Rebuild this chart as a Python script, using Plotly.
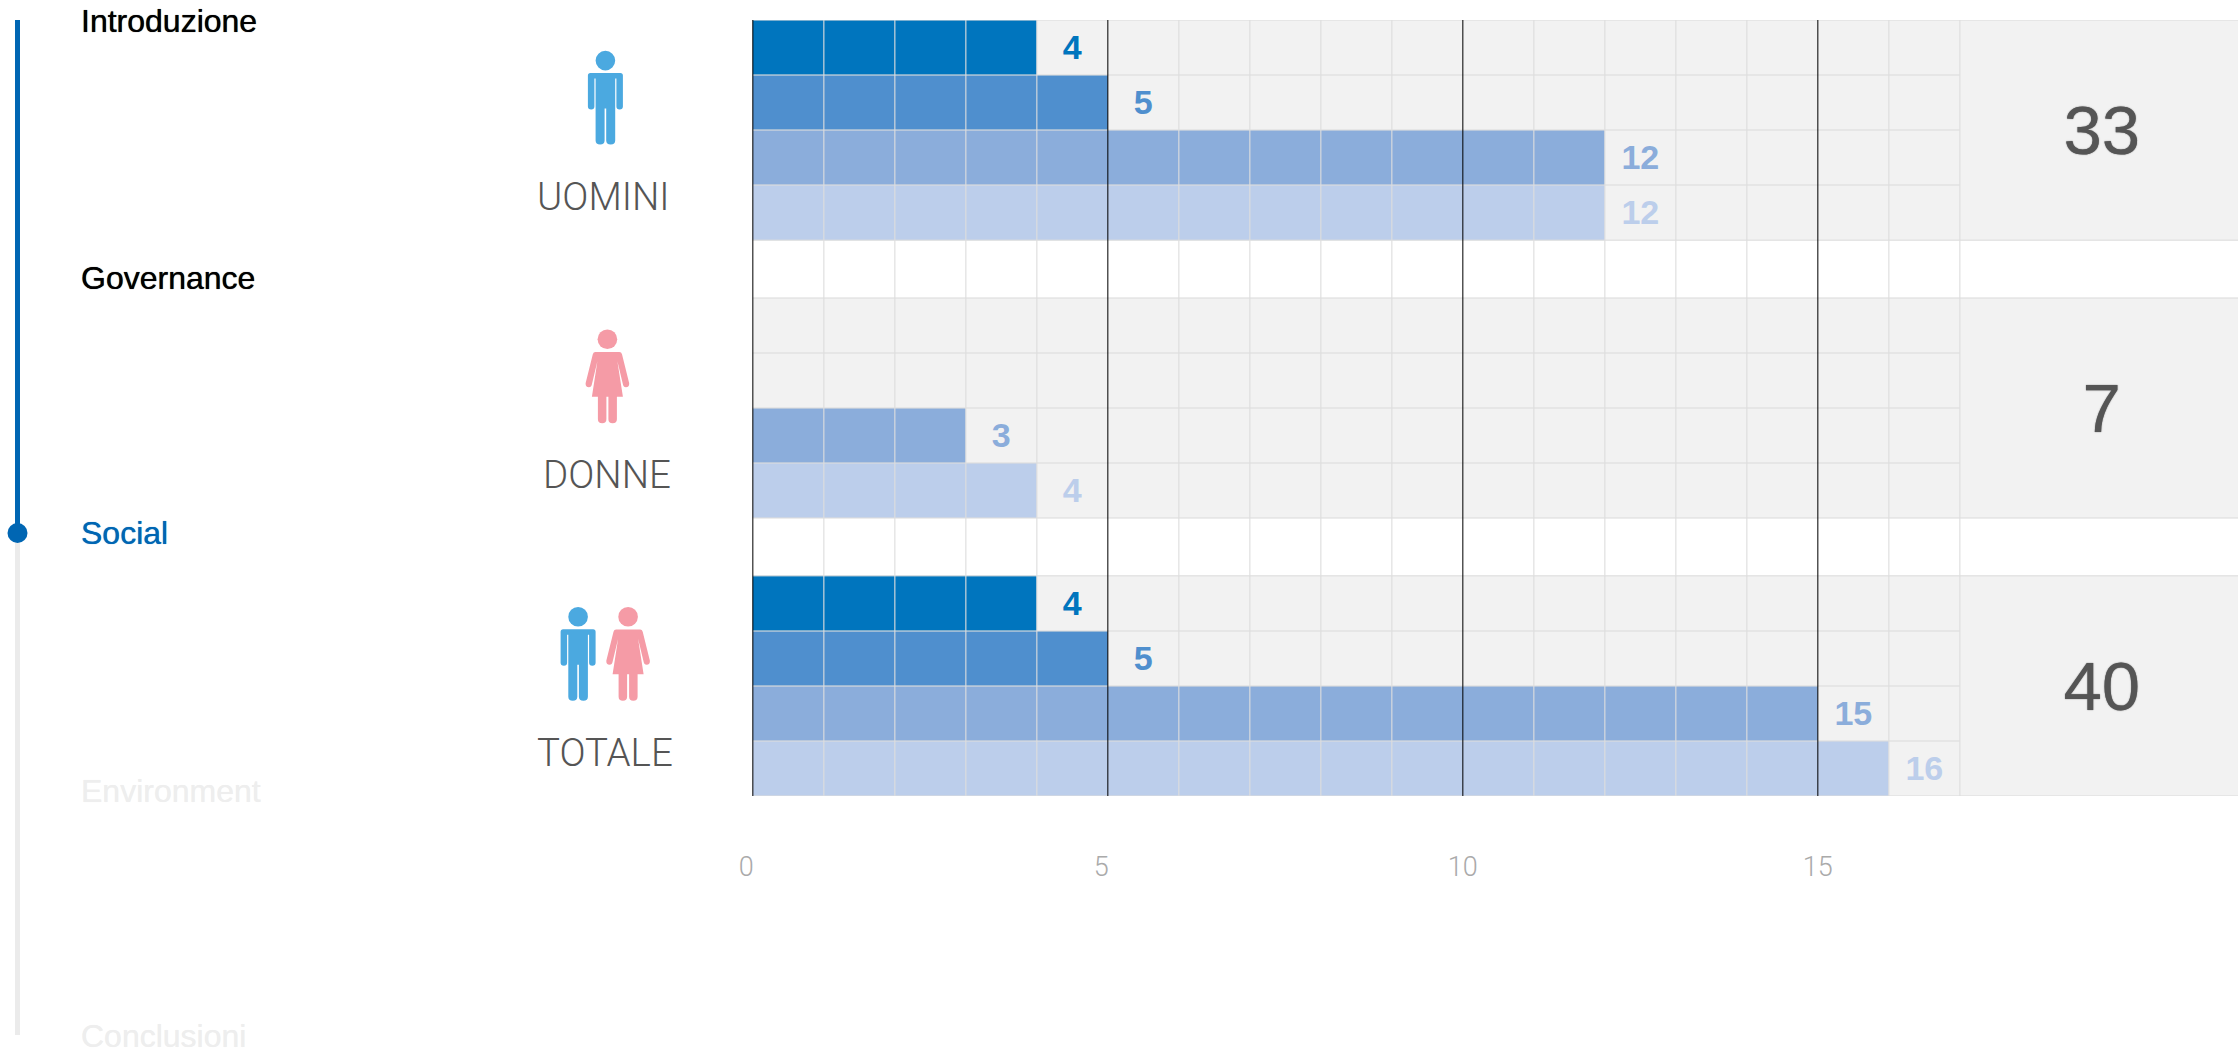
import re
import plotly.graph_objects as go

# ---------- data ----------
groups = ["UOMINI", "DONNE", "TOTALE"]
uomini = [4, 5, 12, 12]
donne = [0, 0, 3, 4]
totale = [4, 5, 15, 16]
totals = [33, 7, 40]
row_colors = ["#0075BE", "#4F8FCE", "#8BADDB", "#BCCEEB"]
x_ticks = [0, 5, 10, 15]
x_tick_labels = ["0\u00a0\u00a0", "5\u00a0\u00a0", "10", "15"]
nav_labels = ["Introduzione", "Governance", "Social", "Environment", "Conclusioni"]
nav_colors = ["#000000", "#000000", "#0066B3", "#EEEEEE", "#EEEEEE"]

# ---------- page geometry (pixels of the 2238x1049 page) ----------
W, H = 2238, 1049
X0, UNIT = 752.8, 71.0
LEFT_PAD = 2.0
TOP, BOTTOM = 20, 796
GRID_MAX = 17
PANEL_MAX = 21
GAP = 1.05
BLUE, PALE = "#0066B3", "#EBEBEB"
MAN, WOMAN = "#4BA9E0", "#F59BA6"
DARK = "#555555"
SANS = "Liberation Sans"
LIGHT = "Roboto"
GRIDC = "rgba(222,222,222,0.75)"
VALUE_NUDGE = 0.06   # optical centring of digits, in rows
TOTAL_NUDGE = 0.12

series = [uomini, donne, totale]


def row_y(g, r):
    return g * (4 + GAP) + r + 0.5


def group_y(g):
    return g * (4 + GAP) + 2


y_max = 3 * 4 + 2 * GAP
fig = go.Figure()

# grey background cells
bg_y = [row_y(g, r) for g in range(3) for r in range(4)]
fig.add_trace(go.Bar(orientation="h", y=bg_y, x=[GRID_MAX] * len(bg_y), width=1,
                     marker=dict(color="#F2F2F2", line_width=0), hoverinfo="skip", showlegend=False))
# right-hand total panels
fig.add_trace(go.Bar(orientation="h", y=[group_y(g) for g in range(3)],
                     x=[PANEL_MAX - GRID_MAX] * 3, base=[GRID_MAX] * 3, width=4,
                     marker=dict(color="#F2F2F2", line_width=0), hoverinfo="skip", showlegend=False))
# value bars
for r in range(4):
    fig.add_trace(go.Bar(orientation="h", y=[row_y(g, r) for g in range(3)],
                         x=[series[g][r] for g in range(3)], width=1,
                         marker=dict(color=row_colors[r], line_width=0), showlegend=False))
    pts = [g for g in range(3) if series[g][r] > 0]
    fig.add_trace(go.Scatter(x=[series[g][r] + 0.5 for g in pts], y=[row_y(g, r) + VALUE_NUDGE for g in pts],
                             mode="text", text=[str(series[g][r]) for g in pts],
                             textposition="middle center",
                             textfont=dict(family=SANS, size=34, color=row_colors[r], weight="bold"),
                             hoverinfo="skip", showlegend=False))
# totals
fig.add_trace(go.Scatter(x=[19] * 3, y=[group_y(g) + TOTAL_NUDGE for g in range(3)], mode="text",
                         text=[str(t) for t in totals], textposition="middle center",
                         textfont=dict(family=SANS, size=69, color=DARK, shadow=f"0 0 1.2px {DARK}"),
                         hoverinfo="skip", showlegend=False))
# empty trace that keeps the full-page overlay axes alive
fig.add_trace(go.Scatter(x=[None], y=[None], xaxis="x2", yaxis="y2", mode="markers",
                         hoverinfo="skip", showlegend=False))

shapes = []
# vertical grid
for v in range(1, GRID_MAX + 1):
    if v in x_ticks:
        continue
    shapes.append(dict(type="line", xref="x", yref="y", x0=v, x1=v, y0=0, y1=y_max,
                       line=dict(color=GRIDC, width=1.5), layer="above"))
# horizontal grid
for g in range(3):
    base = g * (4 + GAP)
    for r in range(1, 4):
        shapes.append(dict(type="line", xref="x", yref="y", x0=0, x1=GRID_MAX, y0=base + r, y1=base + r,
                           line=dict(color=GRIDC, width=1.5), layer="above"))
    for edge in (base, base + 4):
        shapes.append(dict(type="line", xref="x", yref="y", x0=0, x1=PANEL_MAX, y0=edge, y1=edge,
                           line=dict(color=GRIDC, width=1.5), layer="above"))
# dark tick lines
for v in x_ticks:
    shapes.append(dict(type="line", xref="x", yref="y", x0=v, x1=v, y0=0, y1=y_max,
                       line=dict(color="rgba(0,0,0,0.85)", width=1.2), layer="above"))

# navigation rail
px = dict(xref="x2", yref="y2", layer="above")
shapes.append(dict(type="line", x0=17.5, x1=17.5, y0=533, y1=1035, line=dict(color=PALE, width=5), **px))
shapes.append(dict(type="line", x0=17.5, x1=17.5, y0=20, y1=533, line=dict(color=BLUE, width=5), **px))
shapes.append(dict(type="circle", x0=7.5, x1=27.5, y0=523, y1=543, fillcolor=BLUE, line_width=0, **px))

MAN_PATH = ("M -15 12.5 L 15 12.5 Q 17.5 12.5 17.5 15 L 17.5 46 Q 17.5 49 14.2 49 Q 11 49 11 46 L 11 18 "
            "L 9.8 18 L 9.8 80 Q 9.8 84 5.3 84 Q 0.8 84 0.8 80 L 0.8 48 L -0.8 48 L -0.8 80 "
            "Q -0.8 84 -5.3 84 Q -9.8 84 -9.8 80 L -9.8 18 L -11 18 L -11 46 Q -11 49 -14.2 49 "
            "Q -17.5 49 -17.5 46 L -17.5 15 Q -17.5 12.5 -15 12.5 Z")
WOMAN_PATH = ("M -12 12.8 L 12 12.8 Q 14 12.8 14.6 15 L 21.8 44 Q 22 48 18.5 48 Q 16 48 15.5 45 L 10 22 "
              "L 15.5 57.5 L 9.5 57.5 L 9.5 80 Q 9.5 84 5.2 84 Q 1 84 1 80 L 1 57.5 L -1 57.5 L -1 80 "
              "Q -1 84 -5.2 84 Q -9.5 84 -9.5 80 L -9.5 57.5 L -15.5 57.5 L -10 22 L -15.5 45 "
              "Q -16 48 -18.5 48 Q -22 48 -21.8 44 L -14.6 15 Q -14 12.8 -12 12.8 Z")


def place(path, cx, cy):
    out = []
    is_x = True
    for t in path.split():
        if re.fullmatch(r"[A-Z]", t):
            out.append(t)
            is_x = True
        else:
            out.append(f"{float(t) + (cx if is_x else cy):.2f}")
            is_x = not is_x
    return " ".join(out)


def person(path, cx, cy, color):
    shapes.append(dict(type="circle", x0=cx - 9.8, x1=cx + 9.8, y0=cy - 9.8, y1=cy + 9.8,
                       fillcolor=color, line_width=0, **px))
    shapes.append(dict(type="path", path=place(path, cx, cy), fillcolor=color, line_width=0, **px))


person(MAN_PATH, 605.4, 60.6, MAN)
person(WOMAN_PATH, 607.4, 339.2, WOMAN)
person(MAN_PATH, 578.1, 616.7, MAN)
person(WOMAN_PATH, 628.1, 616.7, WOMAN)

annotations = []
for label, color, yy in zip(nav_labels, nav_colors, [20.6, 277.6, 533, 790.6, 1035.7]):
    annotations.append(dict(text=label, xref="x2", yref="y2", x=78.5, y=yy, xanchor="left", yanchor="middle",
                            showarrow=False, font=dict(family=SANS, size=32, color=color,
                                                       shadow=f"0 0 0.7px {color}")))
for label, xx, yy in zip(groups, [603, 607.4, 605], [196.5, 474, 752.5]):
    annotations.append(dict(text=label, xref="x2", yref="y2", x=xx, y=yy, xanchor="center", yanchor="middle",
                            showarrow=False, font=dict(family=LIGHT, size=38.5, color=DARK, weight=300)))

fig.update_layout(
    template="none",
    width=W, height=H, margin=dict(l=0, r=0, t=0, b=0, pad=0),
    paper_bgcolor="white", plot_bgcolor="rgba(0,0,0,0)",
    barmode="overlay", showlegend=False, shapes=shapes, annotations=annotations,
    xaxis=dict(domain=[(X0 - LEFT_PAD) / W, 1], range=[-LEFT_PAD / UNIT, (W - X0) / UNIT], showgrid=False,
               zeroline=False, showline=False, ticks="", tickmode="array", tickvals=x_ticks,
               ticktext=x_tick_labels, ticklabelstandoff=52,
               tickfont=dict(family=LIGHT, size=27, color="#AAAAAA", weight=300),
               fixedrange=True, anchor="y", automargin=False),
    yaxis=dict(domain=[1 - BOTTOM / H, 1 - TOP / H], range=[y_max, 0], visible=False, fixedrange=True,
               anchor="x", automargin=False),
    xaxis2=dict(domain=[0, 1], range=[0, W], visible=False, fixedrange=True, anchor="y2", automargin=False),
    yaxis2=dict(domain=[0, 1], range=[H, 0], visible=False, fixedrange=True, anchor="x2", automargin=False),
)

fig.write_html("out.html", config=dict(displayModeBar=False),
               post_script=("document.body.style.margin='0';document.documentElement.style.overflow='hidden';"
                            "var g=document.querySelector('.plotly-graph-div');"
                            "g.style.position='fixed';g.style.left='0px';g.style.top='0px';"))
